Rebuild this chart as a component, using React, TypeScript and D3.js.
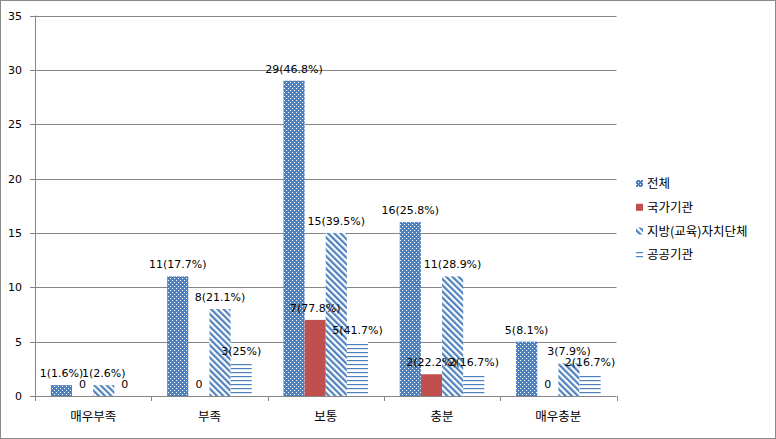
import React from "react";
import * as d3 from "d3";

const categories = ["매우부족", "부족", "보통", "충분", "매우충분"];
const seriesNames = ["전체", "국가기관", "지방(교육)자치단체", "공공기관"];
const totalVals = [1, 11, 29, 16, 5];
const stateVals = [0, 0, 7, 2, 0];
const localVals = [1, 8, 15, 11, 3];
const publicVals = [0, 3, 5, 2, 2];
const totalPct = ["1.6%", "17.7%", "46.8%", "25.8%", "8.1%"];
const statePct = ["", "", "77.8%", "22.2%", ""];
const localPct = ["2.6%", "21.1%", "39.5%", "28.9%", "7.9%"];
const publicPct = ["", "25%", "41.7%", "16.7%", "16.7%"];
const yTicks = [0, 5, 10, 15, 20, 25, 30, 35];

const seriesVals = [totalVals, stateVals, localVals, publicVals];
const seriesPct = [totalPct, statePct, localPct, publicPct];
const fills = ["url(#dots)", "#C0504D", "url(#diag)", "url(#hlines)"];

const W = 776;
const H = 439;
const plotL = 35;
const plotR = 616.5;
const plotT = 15.5;
const plotB = 396;

export default function App() {
  const x0 = d3.scaleBand<string>().domain(categories).range([plotL, plotR]).paddingInner(0).paddingOuter(0);
  const bw = x0.bandwidth();
  const barW = bw / 5.5;
  const x1 = d3
    .scaleBand<string>()
    .domain(seriesNames)
    .range([barW * 0.75, bw - barW * 0.75])
    .paddingInner(0)
    .paddingOuter(0);
  const y = d3.scaleLinear().domain([0, 35]).range([plotB, plotT]);
  const grid = "#868686";
  const numFont = "'DejaVu Sans', sans-serif";
  const korFont = "'Noto Sans CJK KR', sans-serif";

  const items = categories.flatMap((c, i) =>
    seriesNames.map((s, j) => {
      const v = seriesVals[j][i];
      const bx = (x0(c) as number) + (x1(s) as number);
      const w = x1.bandwidth();
      const label = v === 0 ? "0" : `${v}(${seriesPct[j][i]})`;
      return { key: `${c}-${s}`, v, bx, w, label, j };
    })
  );

  return (
    <div style={{ position: "absolute", left: 0, top: 0 }}>
      <svg width={W} height={H} style={{ display: "block" }}>
        <defs>
          <pattern id="dots" width={4} height={4} patternUnits="userSpaceOnUse">
            <rect width={4} height={4} fill="#4F81BD" />
            <rect x={0} y={0} width={1} height={1} fill="#fff" />
            <rect x={2} y={2} width={1} height={1} fill="#fff" />
          </pattern>
          <pattern id="diag" width={4.4} height={10} patternUnits="userSpaceOnUse" patternTransform="rotate(-45)">
            <rect width={4.4} height={10} fill="#fff" />
            <rect width={2.2} height={10} fill="#4F81BD" />
          </pattern>
          <pattern id="hlines" width={8} height={4} patternUnits="userSpaceOnUse">
            <rect width={8} height={4} fill="#fff" />
            <rect y={0} width={8} height={1.2} fill="#4F81BD" />
          </pattern>
        </defs>
        <rect x={0.5} y={0.5} width={W - 1} height={H - 1} fill="#fff" stroke="#8a8a8a" />
        {yTicks.map((t) => (
          <g key={t}>
            {t > 0 && (
              <line x1={plotL} x2={plotR} y1={Math.round(y(t)) + 0.5} y2={Math.round(y(t)) + 0.5} stroke={grid} />
            )}
            <line x1={plotL - 5} x2={plotL} y1={Math.round(y(t)) + 0.5} y2={Math.round(y(t)) + 0.5} stroke={grid} />
            <text x={22} y={y(t) + 4} textAnchor="end" fontSize={11} fontFamily={numFont} fill="#000">
              {t}
            </text>
          </g>
        ))}
        {items.map((d) =>
          d.v > 0 ? (
            <rect key={d.key} x={d.bx} y={y(d.v)} width={d.w} height={plotB - y(d.v)} fill={fills[d.j]} />
          ) : null
        )}
        <line x1={Math.round(plotL) + 0.5} x2={Math.round(plotL) + 0.5} y1={plotT} y2={plotB} stroke={grid} />
        <line x1={plotL} x2={plotR} y1={plotB + 0.5} y2={plotB + 0.5} stroke={grid} />
        {d3.range(categories.length + 1).map((k) => {
          const xx = Math.round(plotL + k * bw) + 0.5;
          return <line key={k} x1={xx} x2={xx} y1={plotB} y2={plotB + 5} stroke={grid} />;
        })}
        {items.map((d) => (
          <text
            key={d.key + "-l"}
            x={d.bx + d.w / 2}
            y={y(d.v) - 8}
            textAnchor="middle"
            fontSize={11}
            fontFamily={numFont}
            fill="#000"
          >
            {d.label}
          </text>
        ))}
        {categories.map((c) => (
          <text
            key={c}
            x={(x0(c) as number) + bw / 2}
            y={421}
            textAnchor="middle"
            fontSize={12.5}
            fontFamily={korFont}
            fill="#000"
          >
            {c}
          </text>
        ))}
        {seriesNames.map((s, j) => {
          const cy = 183.5 + j * 23.8;
          return (
            <g key={s}>
              <rect x={636} y={cy - 3.5} width={7} height={7} fill={fills[j]} />
              <text x={647} y={cy + 4.5} fontSize={12.5} fontFamily={korFont} fill="#000">
                {s}
              </text>
            </g>
          );
        })}
      </svg>
    </div>
  );
}
